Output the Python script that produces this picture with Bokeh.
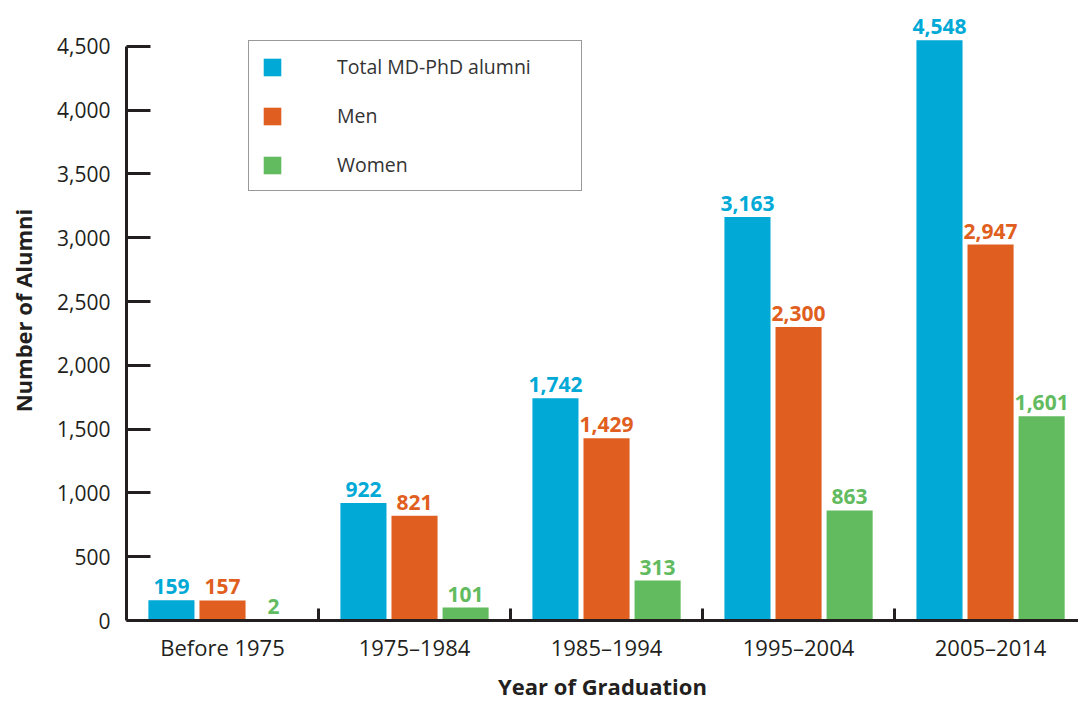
from bokeh.plotting import figure
from bokeh.models import (ColumnDataSource, Range1d, FixedTicker, NumeralTickFormatter,
                          Legend, LegendItem)
from bokeh.transform import dodge
from bokeh.core.properties import value
from bokeh.embed import file_html
from bokeh.resources import INLINE

categories = ["Before 1975", "1975\u20131984", "1985\u20131994", "1995\u20132004", "2005\u20132014"]
total = [159, 922, 1742, 3163, 4548]
men = [157, 821, 1429, 2300, 2947]
women = [2, 101, 313, 863, 1601]
series_names = ["Total MD-PhD alumni", "Men", "Women"]
y_ticks = list(range(0, 4501, 500))

colors = ["#00a9d6", "#e05f20", "#62bb5e"]
FONT = "Open Sans"
INK = "#231f20"

xs = list(range(len(categories)))
src = ColumnDataSource(dict(
    x=xs,
    total=total, men=men, women=women,
    total_lbl=[f"{v:,}" for v in total],
    men_lbl=[f"{v:,}" for v in men],
    women_lbl=[f"{v:,}" for v in women],
))

p = figure(width=1078, height=704, output_backend="svg", toolbar_location=None,
           x_range=Range1d(-0.5, 4.458), y_range=Range1d(0, 4860),
           min_border_left=126, min_border_right=0, min_border_top=0, min_border_bottom=84)
p.outline_line_color = None
p.xgrid.grid_line_color = None
p.ygrid.grid_line_color = None
p.background_fill_color = "white"

bw = 0.24
offs = [-0.266, 0.0, 0.266]
keys = ["total", "men", "women"]
renderers = []
for k, off, c in zip(keys, offs, colors):
    r = p.vbar(x=dodge("x", off, range=p.x_range), top=k, width=bw, source=src,
               fill_color=c, line_color=None)
    renderers.append(r)
    p.text(x=dodge("x", off, range=p.x_range), y=k, text=k + "_lbl", source=src,
           text_color=c, text_font=value(FONT), text_font_style="bold",
           text_font_size="21px", text_align="center", text_baseline="bottom",
           y_offset=-6)

# x axis
xa = p.xaxis[0]
xa.ticker = FixedTicker(ticks=xs, minor_ticks=[0.5, 1.5, 2.5, 3.5])
xa.major_label_overrides = {i: c for i, c in zip(xs, categories)}
xa.major_tick_line_color = None
xa.minor_tick_in = 12
xa.minor_tick_out = 0
xa.minor_tick_line_width = 3
xa.minor_tick_line_color = INK
xa.axis_line_width = 3
xa.axis_line_color = INK
xa.major_label_text_font = FONT
xa.major_label_text_font_size = "22px"
xa.major_label_text_color = INK
xa.major_label_standoff = 5
xa.axis_label = "Year of Graduation"
xa.axis_label_text_font = FONT
xa.axis_label_text_font_style = "bold"
xa.axis_label_text_font_size = "22px"
xa.axis_label_text_color = INK
xa.axis_label_standoff = 6

# y axis
ya = p.yaxis[0]
ya.ticker = FixedTicker(ticks=y_ticks, minor_ticks=[])
ya.formatter = NumeralTickFormatter(format="0,0")
ya.bounds = (0, 4500)
ya.major_tick_in = 24
ya.major_tick_out = 0
ya.major_tick_line_width = 3
ya.major_tick_line_color = INK
ya.minor_tick_line_color = None
ya.axis_line_width = 3
ya.axis_line_color = INK
ya.major_label_text_font = FONT
ya.major_label_text_font_size = "21px"
ya.major_label_text_color = INK
ya.major_label_standoff = 16
ya.axis_label = "Number of Alumni"
ya.axis_label_text_font = FONT
ya.axis_label_text_font_style = "bold"
ya.axis_label_text_font_size = "22px"
ya.axis_label_text_color = INK
ya.axis_label_standoff = 16

legend = Legend(items=[LegendItem(label=n, renderers=[r]) for n, r in zip(series_names, renderers)],
                location=(122, 429), orientation="vertical",
                glyph_width=22, glyph_height=22, label_height=22,
                label_standoff=54, label_width=232, spacing=22, padding=12, margin=0,
                border_line_color="#333333", border_line_width=1.2,
                label_text_font=FONT, label_text_font_size="19.5px", label_text_color="#333333",
                background_fill_alpha=1)
p.add_layout(legend)

open("out.html", "w").write(file_html(p, INLINE))
